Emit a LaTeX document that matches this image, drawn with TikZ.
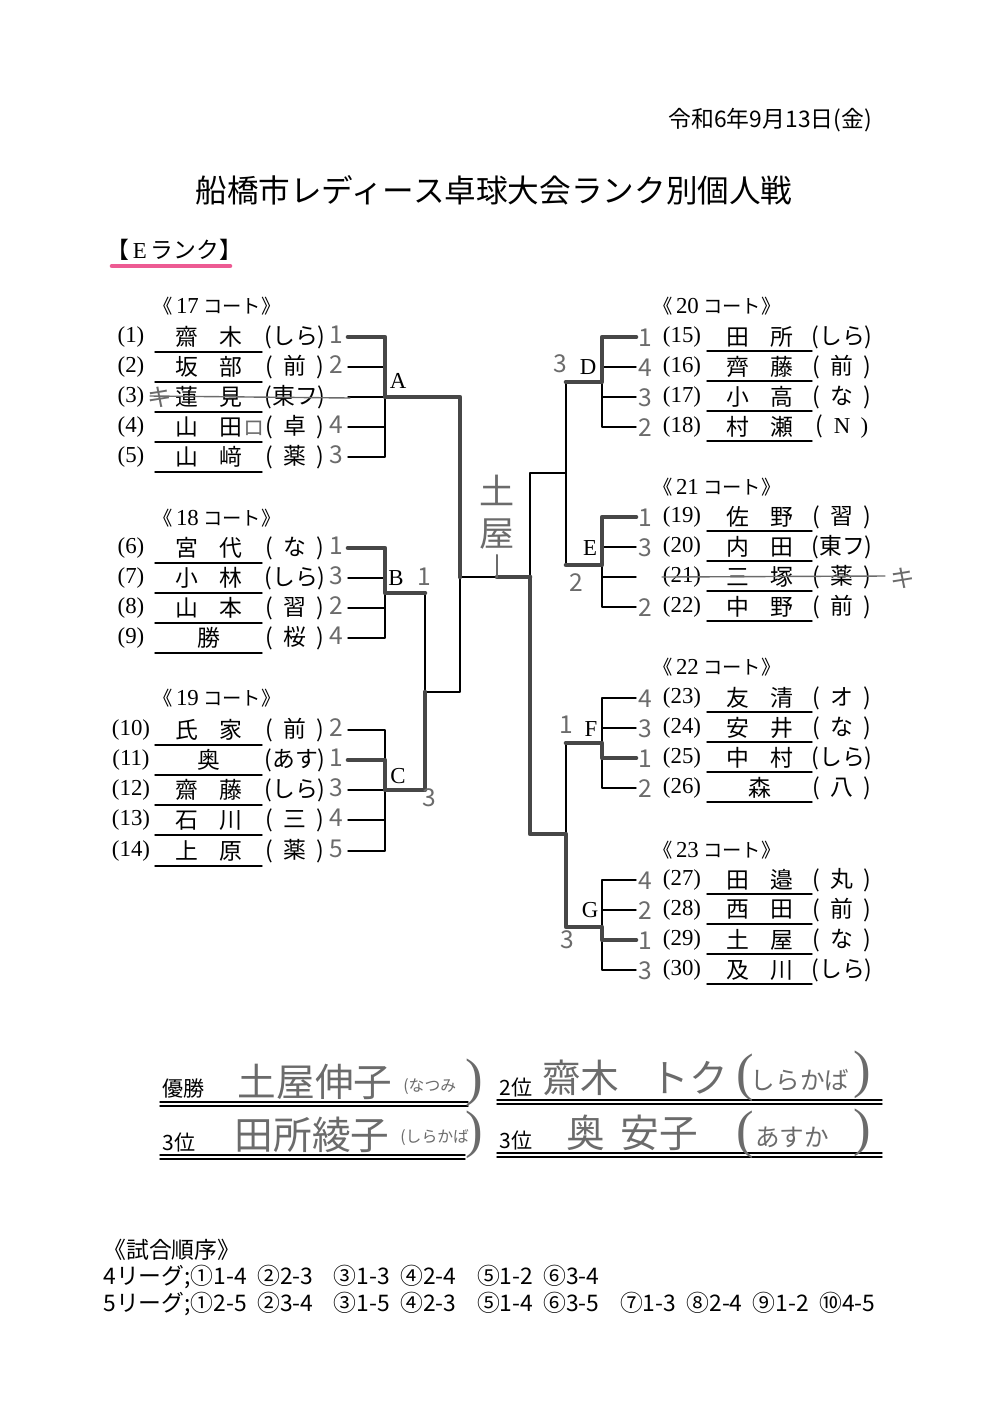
\documentclass[tikz,border=0pt]{standalone}
\usepackage{fontspec}
\setmainfont{Liberation Serif}
\newfontfamily\jp{Noto Sans CJK JP}
\definecolor{pencil}{gray}{0.42}
\definecolor{marker}{RGB}{232,50,120}
\newcommand\solo[1]{(\hspace{.45em}#1\hspace{.45em})}
\newcommand\duo[2]{#1\hspace{.9em}#2}
\newcommand\gap{\hspace{.45em}}
\newcommand\wgap{\hspace{.9em}}
\tikzset{
  brk/.style={line width=0.8pt},
  win/.style={line width=2.6pt, draw=black!72},
  num/.style={font=\fontsize{13}{13}\selectfont, inner sep=0pt},
  entry/.style={font=\jp\fontsize{13}{13}\selectfont, inner sep=0pt},
  court/.style={font=\jp\fontsize{11}{11}\selectfont, inner sep=0pt},
  hand/.style={font=\jp\fontsize{14}{14}\selectfont, text=pencil, inner sep=0pt},
  bighand/.style={font=\jp\fontsize{22}{22}\selectfont, text=pencil, inner sep=0pt},
  smallhand/.style={font=\jp\fontsize{9}{9}\selectfont, text=pencil, inner sep=0pt},
  paren/.style={font=\fontsize{30}{30}\selectfont, text=pencil, inner sep=0pt},
  place/.style={font=\jp\fontsize{12}{12}\selectfont, inner sep=0pt},
  order/.style={font=\jp\fontsize{13}{13}\selectfont, inner sep=0pt, anchor=west},
  scratch/.style={line width=0.8pt, draw=pencil},
}
\begin{document}
\begin{tikzpicture}[x=0.02cm,y=-0.02cm,line cap=round,line join=round]
  \useasboundingbox (0,0) rectangle (1000,1414);
  % joints of the draw
  \coordinate (A) at (385,397);
  \coordinate (B) at (385,593);
  \coordinate (C) at (385,790);
  \coordinate (BC) at (425,692);
  \coordinate (L) at (460,577);
  \coordinate (R) at (530,577);
  \coordinate (D) at (602,382);
  \coordinate (E) at (602,565);
  \coordinate (DE) at (566,473);
  \coordinate (F) at (602,743);
  \coordinate (G) at (602,927);
  \coordinate (FG) at (566,834);
  \coordinate (mark) at (497,577);

  % heading
  \node[font=\jp\fontsize{13}{13}\selectfont, anchor=east] (date) at (878,120) {令和6年9月13日(金)};
  \node[font=\jp\fontsize{18}{18}\selectfont] (title) at (494,190) {船橋市レディース卓球大会ランク別個人戦};
  \node[font=\jp\fontsize{13}{13}\selectfont, anchor=west, inner sep=0pt] (rank) at (106,250) {【\,{\rmfamily E}\,ランク】};
  \draw[line width=2.6pt, draw=marker, opacity=0.8] (112,266) -- (230,266);

  \foreach \c/\x/\y in {17/217/306, 18/217/518, 19/217/698, 20/717/306, 21/717/487, 22/717/667, 23/717/850}
    \node[court] (court\c) at (\x,\y) {《\,{\rmfamily\fontsize{13}{13}\selectfont\c} コート》};

  % left side
  \foreach \i/\y/\nm/\cl/\sc/\g in {
      1/337/{\duo{齋}{木}}/{(しら)}/1/A, 2/367/{\duo{坂}{部}}/{\solo{前}}/2/A,
      3/397/{\duo{蓮}{見}}/{(東フ)}/{}/A, 4/427/{\duo{山}{田}}/{\solo{卓}}/4/A,
      5/457/{\duo{山}{﨑}}/{\solo{薬}}/3/A,
      6/548/{\duo{宮}{代}}/{\solo{な}}/1/B, 7/578/{\duo{小}{林}}/{(しら)}/3/B,
      8/608/{\duo{山}{本}}/{\solo{習}}/2/B, 9/638/{勝}/{\solo{桜}}/4/B,
      10/730/{\duo{氏}{家}}/{\solo{前}}/2/C, 11/760/{奥}/{(あす)}/1/C,
      12/790/{\duo{齋}{藤}}/{(しら)}/3/C, 13/820/{\duo{石}{川}}/{\solo{三}}/4/C,
      14/851/{\duo{上}{原}}/{\solo{薬}}/5/C}{
    \node[num] (n\i) at (131,\y) {(\i)};
    \node[entry] (m\i) at (209,\y) {\nm};
    \node[entry] (c\i) at (295,\y) {\cl};
    \node[hand] (s\i) at (336,\y-2) {\sc};
    \coordinate (p\i) at (348,\y);
    \draw[brk] (155,\y+15) -- (262,\y+15);
    \draw[brk] (p\i) -| (\g);
  }

  % right side
  \foreach \i/\y/\nm/\cl/\sc/\g in {
      15/337/{\duo{田}{所}}/{(しら)}/1/D, 16/367/{\duo{齊}{藤}}/{\solo{前}}/4/D,
      17/397/{\duo{小}{高}}/{\solo{な}}/3/D, 18/427/{\duo{村}{瀬}}/{\solo{\rmfamily N}}/2/D,
      19/517/{\duo{佐}{野}}/{\solo{習}}/1/E, 20/547/{\duo{内}{田}}/{(東フ)}/3/E,
      21/577/{\duo{三}{塚}}/{\solo{薬}}/{}/E, 22/607/{\duo{中}{野}}/{\solo{前}}/2/E,
      23/698/{\duo{友}{清}}/{\solo{オ}}/4/F, 24/728/{\duo{安}{井}}/{\solo{な}}/3/F,
      25/758/{\duo{中}{村}}/{(しら)}/1/F, 26/788/{森}/{\solo{八}}/2/F,
      27/880/{\duo{田}{邉}}/{\solo{丸}}/4/G, 28/910/{\duo{西}{田}}/{\solo{前}}/2/G,
      29/940/{\duo{土}{屋}}/{\solo{な}}/1/G, 30/970/{\duo{及}{川}}/{(しら)}/3/G}{
    \node[num] (n\i) at (682,\y) {(\i)};
    \node[entry] (m\i) at (760,\y) {\nm};
    \node[entry] (c\i) at (842,\y) {\cl};
    \node[hand] (s\i) at (645,\y+1) {\sc};
    \coordinate (p\i) at (636,\y);
    \draw[brk] (707,\y+14) -- (812,\y+14);
    \draw[brk] (p\i) -| (\g);
  }

  % rounds
  \draw[brk] (B) -| (BC);
  \draw[brk] (C) -| (BC);
  \draw[brk] (A) -| (L);
  \draw[brk] (BC) -| (L);
  \draw[brk] (L) -- (R);
  \draw[brk] (D) -| (DE);
  \draw[brk] (E) -| (DE);
  \draw[brk] (F) -| (FG);
  \draw[brk] (G) -| (FG);
  \draw[brk] (DE) -| (R);
  \draw[brk] (FG) -| (R);

  \node[num] (labA) at (398,381) {A};
  \node[num] (labB) at (396,578) {B};
  \node[num] (labC) at (398,776) {C};
  \node[num] (labD) at (588,367) {D};
  \node[num] (labE) at (590,548) {E};
  \node[num] (labF) at (591,729) {F};
  \node[num] (labG) at (590,910) {G};

  % winners marked by hand
  \draw[win] (p1) -| (A) -| (L);
  \draw[win] (p6) -| (B) -- (B -| BC);
  \draw[win] (p11) -| (C) -| (BC);
  \draw[win] (mark) -- (R);
  \draw[win] (p15) -| (D) -- (D -| DE);
  \draw[win] (p19) -| (E) -- (E -| DE);
  \draw[win] (p25) -| (F) -- (F -| FG);
  \draw[win] (p29) -| (G) -| (FG) -| (R);

  % pencil notes
  \node[hand] (gB) at (424,577) {1};
  \node[hand] (gC) at (429,798) {3};
  \node[hand] (gD) at (560,364) {3};
  \node[hand] (gE) at (576,583) {2};
  \node[hand] (gF) at (566,725) {1};
  \node[hand] (gG) at (567,940) {3};
  \node[hand, font=\jp\fontsize{12}{12}\selectfont] (ro) at (254,428) {ロ};
  \node[hand] (ki3) at (160,397) {キ};
  \draw[scratch] (150,396) -- (350,398);
  \node[hand] (ki21) at (903,578) {キ};
  \draw[scratch] (662,577) -- (885,576);
  \node[bighand, font=\jp\fontsize{20}{24}\selectfont, align=center] (champ) at (497,512) {土\\屋};
  \draw[scratch, line width=1.2pt] (mark) -- ++(0,-22);

  % results
  \foreach \x/\y/\w/\t in {160/1102/468/優勝, 497/1100/882/2位, 160/1155/465/3位, 497/1153/882/3位}{
    \node[place, anchor=south west] at (\x+2,\y-3) {\t};
    \draw[brk] (\x,\y) -- (\w,\y);
    \draw[brk] (\x,\y+4) -- (\w,\y+4);
  }
  \node[bighand] (first) at (315,1082) {土屋伸子};
  \node[smallhand, anchor=west] (firstclub) at (403,1087) {(なつみ};
  \node[paren] at (474,1083) {)};
  \node[bighand] (second) at (635,1078) {齋木\hspace{.8em}トク};
  \node[paren] at (745,1078) {(};
  \node[hand] (secondclub) at (800,1080) {しらかば};
  \node[paren] at (862,1075) {)};
  \node[bighand] (thirdA) at (312,1135) {田所綾子};
  \node[smallhand, anchor=west] (thirdAclub) at (400,1138) {(しらかば};
  \node[paren] at (474,1135) {)};
  \node[bighand] (thirdB) at (632,1133) {奥\hspace{.4em}安子};
  \node[paren] at (745,1135) {(};
  \node[hand] (thirdBclub) at (792,1137) {あすか};
  \node[paren] at (862,1133) {)};

  % order of matches
  \node[order] (ordhead) at (103,1250) {《試合順序》};
  \node[order] (ord4) at (103,1277) {4リーグ;①1-4\gap ②2-3\wgap ③1-3\gap ④2-4\wgap ⑤1-2\gap ⑥3-4};
  \node[order] (ord5) at (103,1304) {5リーグ;①2-5\gap ②3-4\wgap ③1-5\gap ④2-3\wgap ⑤1-4\gap ⑥3-5\wgap ⑦1-3\gap ⑧2-4\gap ⑨1-2\gap ⑩4-5};
\end{tikzpicture}
\end{document}
